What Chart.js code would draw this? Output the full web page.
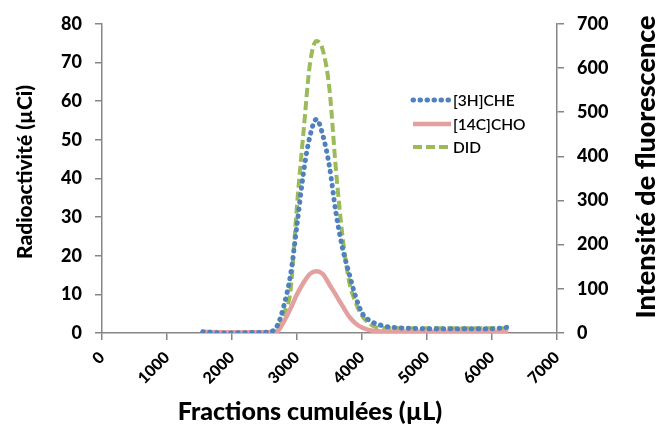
<!DOCTYPE html>
<html>
<head>
<meta charset="utf-8">
<script src="https://cdn.jsdelivr.net/npm/chart.js@4.4.1/dist/chart.umd.min.js"></script>
<style>
html,body{margin:0;padding:0;background:#fff;}
#wrap{width:659px;height:425px;position:relative;}
</style>
</head>
<body>
<div id="wrap"><canvas id="c" width="659" height="425"></canvas></div>
<script>
const fractions = [1550, 1900, 2300, 2550, 2700, 2800, 2900, 3000, 3100, 3200, 3300, 3400, 3500, 3600, 3700, 3800, 3900, 4000, 4100, 4200, 4400, 4600, 4800, 5000, 5200, 5400, 5600, 5800, 6000, 6250];
const che3H = [0.3, 0.0, 0.1, 0.2, 2.0, 7.2, 15.0, 28.0, 41.5, 51.0, 55.3, 51.0, 43.0, 31.0, 22.0, 15.5, 9.5, 5.2, 3.4, 2.5, 1.6, 1.3, 1.2, 1.1, 1.1, 1.1, 1.1, 1.1, 1.1, 1.5];
const cho14C = [0.3, 0.2, 0.2, 0.2, 0.5, 3.0, 6.3, 10.0, 13.0, 15.3, 16.0, 15.2, 12.5, 9.8, 7.0, 4.3, 2.5, 1.4, 0.8, 0.5, 0.3, 0.3, 0.3, 0.3, 0.3, 0.3, 0.3, 0.3, 0.3, 0.3];
const did = [2, 2, 2, 2, 4, 44, 96, 289, 455, 610, 661, 639, 551, 368, 219, 118, 70, 39, 23, 14, 11, 11, 11, 11, 11, 11, 11, 11, 11, 11];
const xTicks = [0, 1000, 2000, 3000, 4000, 5000, 6000, 7000];
const leftTicks = [0, 10, 20, 30, 40, 50, 60, 70, 80];
const rightTicks = [0, 100, 200, 300, 400, 500, 600, 700];
const seriesNames = ['[3H]CHE', '[14C]CHO', 'DID'];
const xTitle = 'Fractions cumulées (µL)';
const yLeftTitle = 'Radioactivité (µCi)';
const yRightTitle = 'Intensité de fluorescence';

const toPts = (ys) => fractions.map((x, i) => ({x: x, y: ys[i]}));
const FONT = 'Lato, "Open Sans", sans-serif';
const GRAY = '#868686';

const legendPlugin = {
  id: 'customLegend',
  afterDraw(chart) {
    const ctx = chart.ctx;
    const rows = [100, 124, 147];
    chart.data.datasets.forEach((ds, i) => {
      const y = rows[i];
      ctx.save();
      ctx.strokeStyle = ds.borderColor;
      ctx.lineWidth = ds.borderWidth;
      ctx.lineCap = ds.borderCapStyle || 'butt';
      ctx.setLineDash(ds.borderDash || []);
      ctx.beginPath();
      ctx.moveTo(413, y);
      ctx.lineTo(451, y);
      ctx.stroke();
      ctx.setLineDash([]);
      ctx.fillStyle = '#000';
      ctx.font = '600 15.5px ' + FONT;
      ctx.textBaseline = 'middle';
      ctx.textAlign = 'left';
      ctx.fillText(ds.label, 453, y + 1);
      ctx.restore();
    });
  }
};

const titlePlugin = {
  id: 'axisTitles',
  afterDraw(chart) {
    const ctx = chart.ctx;
    const draw = (text, x, y, size, rot) => {
      ctx.save();
      ctx.translate(x, y);
      ctx.rotate(rot);
      ctx.font = '900 ' + size + 'px ' + FONT;
      ctx.fillStyle = '#000';
      ctx.textAlign = 'center';
      ctx.textBaseline = 'middle';
      ctx.fillText(text, 0, 0);
      ctx.restore();
    };
    draw(xTitle, 310, 412, 25, 0);
    draw(yLeftTitle, 25, 172, 21, -Math.PI / 2);
    draw(yRightTitle, 646, 167, 27, -Math.PI / 2);
  }
};

new Chart(document.getElementById('c'), {
  type: 'line',
  data: {
    datasets: [
      {label: seriesNames[0], data: toPts(che3H), yAxisID: 'y', borderColor: '#4F81BD', borderWidth: 5, borderDash: [0.5, 6.5], borderCapStyle: 'round', pointRadius: 0, cubicInterpolationMode: 'monotone', fill: false},
      {label: seriesNames[1], data: toPts(cho14C), yAxisID: 'y', borderColor: '#E3A09E', borderWidth: 4.5, pointRadius: 0, cubicInterpolationMode: 'monotone', fill: false},
      {label: seriesNames[2], data: toPts(did), yAxisID: 'y1', borderColor: '#9BBB59', borderWidth: 4, borderDash: [9, 4], pointRadius: 0, cubicInterpolationMode: 'monotone', fill: false}
    ]
  },
  options: {
    responsive: false,
    animation: false,
    devicePixelRatio: 1,
    layout: {padding: {top: 23, left: 0, right: 0, bottom: 0}},
    plugins: {legend: {display: false}, tooltip: {enabled: false}},
    scales: {
      x: {
        type: 'linear', min: 0, max: 7000,
        afterBuildTicks: (s) => { s.ticks = xTicks.map(v => ({value: v})); },
        afterFit: (s) => { s.height = 92; },
        ticks: {color: '#000', font: {family: FONT, size: 16, weight: '900'}, maxRotation: 45, minRotation: 45, padding: 8, callback: (v) => String(v)},
        grid: {drawOnChartArea: false, drawTicks: true, tickLength: 7, color: GRAY, lineWidth: 1.5},
        border: {color: GRAY, width: 1.5},
        title: {display: false}
      },
      y: {
        position: 'left', min: 0, max: 80,
        afterBuildTicks: (s) => { s.ticks = leftTicks.map(v => ({value: v})); },
        afterFit: (s) => { s.width = 102; },
        ticks: {color: '#000', font: {family: FONT, size: 18, weight: '900'}, padding: 13},
        grid: {drawOnChartArea: false, drawTicks: true, tickLength: 7, color: GRAY, lineWidth: 1.5},
        border: {color: GRAY, width: 1.5},
        title: {display: false}
      },
      y1: {
        position: 'right', min: 0, max: 700,
        afterBuildTicks: (s) => { s.ticks = rightTicks.map(v => ({value: v})); },
        afterFit: (s) => { s.width = 102; },
        ticks: {color: '#000', font: {family: FONT, size: 18, weight: '900'}, padding: 13},
        grid: {drawOnChartArea: false, drawTicks: true, tickLength: 7, color: GRAY, lineWidth: 1.5},
        border: {color: GRAY, width: 1.5},
        title: {display: false}
      }
    }
  },
  plugins: [legendPlugin, titlePlugin]
});
</script>
</body>
</html>
